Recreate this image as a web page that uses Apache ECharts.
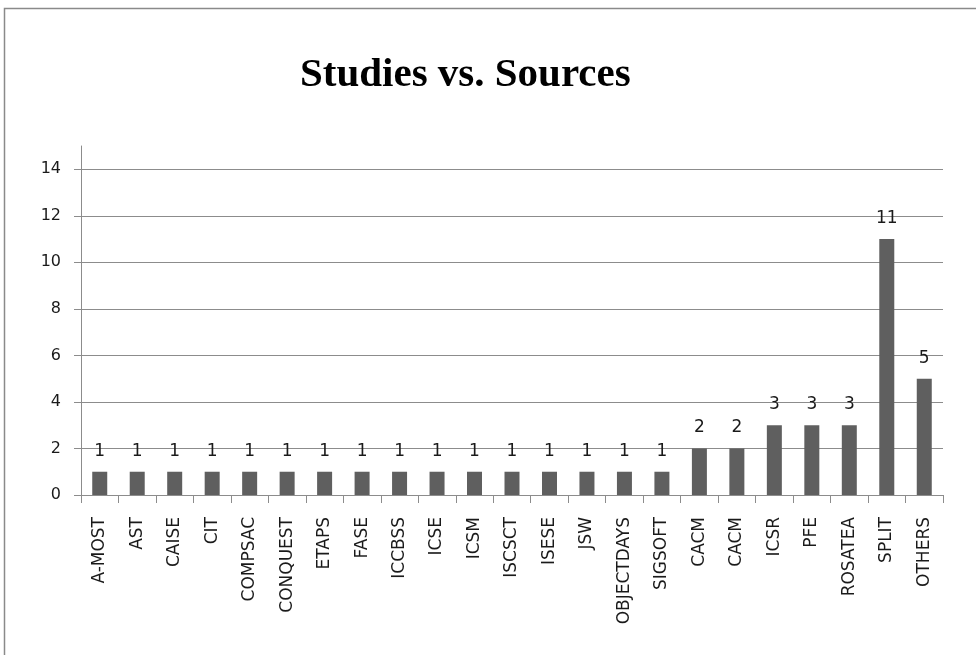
<!DOCTYPE html>
<html>
<head>
<meta charset="utf-8">
<script src="https://cdn.jsdelivr.net/npm/echarts@6/dist/echarts.min.js"></script>
<style>
  html, body { margin: 0; padding: 0; background: #fff; }
  #chart { width: 976px; height: 655px; }
</style>
</head>
<body>
<div id="chart"></div>
<script>
// Sources (venues) and number of studies found in each
const sources = ['A-MOST', 'AST', 'CAISE', 'CIT', 'COMPSAC', 'CONQUEST', 'ETAPS', 'FASE',
  'ICCBSS', 'ICSE', 'ICSM', 'ISCSCT', 'ISESE', 'JSW', 'OBJECTDAYS', 'SIGSOFT',
  'CACM', 'CACM', 'ICSR', 'PFE', 'ROSATEA', 'SPLIT', 'OTHERS'];
const studies = [1, 1, 1, 1, 1, 1, 1, 1, 1, 1, 1, 1, 1, 1, 1, 1, 2, 2, 3, 3, 3, 11, 5];
const yTicks = [0, 2, 4, 6, 8, 10, 12, 14];

const axisGray = '#8c8c8c';
const textFont = 'DejaVu Sans';
const textColor = '#1a1a1a';

const chart = echarts.init(document.getElementById('chart'), null, { renderer: 'canvas' });
chart.setOption({
  animation: false,
  backgroundColor: '#ffffff',
  title: {
    text: 'Studies vs. Sources',
    left: 295,
    top: 50,
    textStyle: { fontFamily: 'Liberation Serif', fontWeight: 'bold', fontSize: 41, color: '#000' }
  },
  graphic: [{
    type: 'rect',
    shape: { x: 4.5, y: 8.5, width: 1000, height: 700 },
    style: { fill: 'none', stroke: '#8a8a8a', lineWidth: 1.5 },
    silent: true
  }],
  grid: { left: 81, right: 33, top: 146, bottom: 160 },
  xAxis: {
    type: 'category',
    data: sources,
    axisLine: { lineStyle: { color: axisGray, width: 1 } },
    axisTick: { show: true, length: 8, lineStyle: { color: axisGray } },
    axisLabel: {
      rotate: 90, interval: 0, margin: 22,
      fontFamily: textFont, fontSize: 17, color: textColor
    }
  },
  yAxis: {
    type: 'value',
    min: 0, max: 15, interval: 2,
    axisLine: { show: true, lineStyle: { color: axisGray, width: 1 } },
    axisTick: { show: true, length: 7, customValues: yTicks, lineStyle: { color: axisGray } },
    axisLabel: {
      customValues: yTicks, margin: 20,
      fontFamily: textFont, fontSize: 16, color: textColor
    },
    splitLine: { show: true, lineStyle: { color: axisGray, width: 1 } }
  },
  series: [{
    type: 'bar',
    data: studies,
    barWidth: 15,
    itemStyle: { color: '#5f5f5f' },
    label: {
      show: true, position: 'top', distance: 12,
      fontFamily: textFont, fontSize: 17, color: textColor
    }
  }]
});
</script>
</body>
</html>
